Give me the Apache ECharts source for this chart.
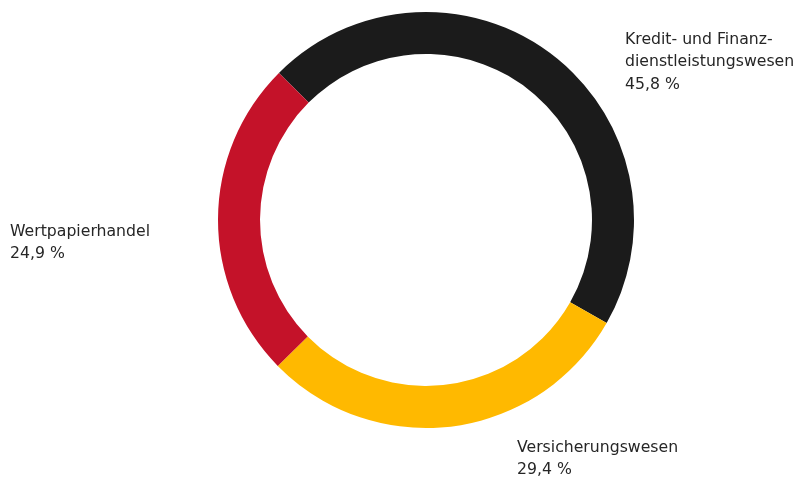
<!DOCTYPE html>
<html>
<head>
<meta charset="utf-8">
<script src="https://cdn.jsdelivr.net/npm/echarts@6/dist/echarts.min.js"></script>
<style>
  html, body { margin: 0; padding: 0; background: #fff; }
  #chart { width: 805px; height: 479px; }
</style>
</head>
<body>
<div id="chart"></div>
<script>
// Daten
const categories = ['Kredit- und Finanz-\ndienstleistungswesen', 'Versicherungswesen', 'Wertpapierhandel'];
const values = [45.8, 29.4, 24.9];
const colors = ['#1b1b1b', '#ffb900', '#c41229'];

// Label-Positionen (Mitte des Textblocks, linksbündig)
const labelPos = [[625, 62], [517, 459], [10, 243]];

const chart = echarts.init(document.getElementById('chart'));

const option = {
  animation: false,
  series: [{
    type: 'pie',
    center: [426, 220],
    radius: [166, 208],
    startAngle: 135,
    clockwise: true,
    silent: true,
    data: categories.map((name, i) => ({
      name: name,
      value: values[i],
      itemStyle: { color: colors[i] }
    })),
    label: {
      show: true,
      position: 'outside',
      formatter: p => p.name + '\n' + p.value.toFixed(1).replace('.', ',') + ' %',
      fontFamily: 'DejaVu Sans',
      fontSize: 15.7,
      lineHeight: 22.5,
      color: '#262626',
      align: 'left'
    },
    labelLine: { show: false },
    labelLayout: p => ({
      x: labelPos[p.dataIndex][0],
      y: labelPos[p.dataIndex][1],
      align: 'left',
      verticalAlign: 'middle'
    })
  }]
};

chart.setOption(option);
</script>
</body>
</html>
